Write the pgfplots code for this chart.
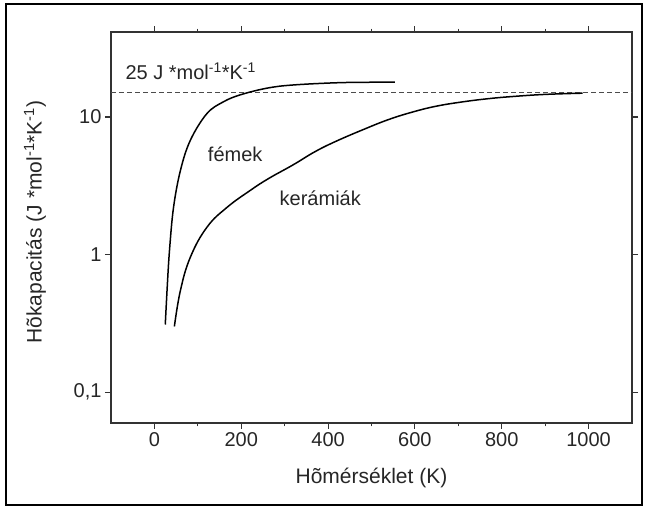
\documentclass[border=0pt]{standalone}
\usepackage{pgfplots}
\pgfplotsset{compat=1.18}
\usepackage{fontspec}
\setmainfont{Liberation Sans}
\begin{document}
\begin{tikzpicture}
\path[use as bounding box] (0pt,0pt) rectangle (645pt,508pt);
\draw[line width=1.6pt] (6pt,3pt) rectangle (642pt,504pt);
\begin{axis}[
  at={(111pt,85pt)}, anchor=south west,
  scale only axis, width=521pt, height=391pt,
  ymode=log,
  xmin=-100, xmax=1100, ymin=0.0596, ymax=41.5,
  xtick={0,200,...,1000}, minor x tick num=1,
  ytick={0.1,1,10}, yticklabels={{0,1},1,10},
  yminorticks=false,
  tick align=outside,
  xtick pos=both, ytick pos=both,
  xticklabel pos=lower, yticklabel pos=left,
  major tick length=6pt, minor tick length=3.5pt,
  axis line style={line width=1.1pt, black!80},
  every tick/.style={line width=1.1pt, black!80},
  /pgf/number format/assume math mode=true,
  /pgf/number format/set thousands separator={},
  tick label style={font=\fontsize{20}{23}\selectfont, black!85},
  label style={font=\fontsize{21}{24}\selectfont, black!85},
  xlabel={Hõmérséklet (K)},
  ylabel={Hõkapacitás (J *mol\textsuperscript{-1}*K\textsuperscript{-1})},
  xlabel style={at={(axis description cs:0.5,-0.1407)}, anchor=center},
  ylabel style={at={(axis description cs:-0.1459,0.514)}, anchor=center},
  clip=false,
]
% 25 J/mol/K reference line
\addplot[black!70, line width=1.2pt, dash pattern=on 5pt off 3pt] coordinates {(-100,15) (1100,15)};
% fémek
\addplot[black, line width=1.5pt, smooth, tension=0.6] coordinates {
(25,0.31) (30,0.62) (35,1.1) (44,2.2) (60,4.1) (83,6.8) (121,10.6) (159,12.9)
(198,14.5) (259,16.2) (320,17.1) (435,17.8) (554,17.9)};
% kerámiák
\addplot[black, line width=1.5pt, smooth, tension=0.7] coordinates {
(46,0.30) (60,0.55) (83,0.96) (121,1.58) (167,2.2) (221,2.93) (263,3.57)
(320,4.5) (370,5.6) (420,6.7) (485,8.2) (540,9.6) (596,10.9) (650,12.0) (711,12.9) (770,13.6) (826,14.1) (900,14.6) (986,14.9)};
\node[anchor=base west, font=\fontsize{20}{23}\selectfont, black!85, inner sep=0pt]
  at (axis cs:-67,18.6) {25 J *mol\textsuperscript{-1}*K\textsuperscript{-1}};
\node[anchor=base, font=\fontsize{20}{23}\selectfont, black!85, inner sep=0pt]
  at (axis cs:186,4.72) {fémek};
\node[anchor=base, font=\fontsize{20}{23}\selectfont, black!85, inner sep=0pt]
  at (axis cs:382,2.28) {kerámiák};
\end{axis}
\end{tikzpicture}
\end{document}
